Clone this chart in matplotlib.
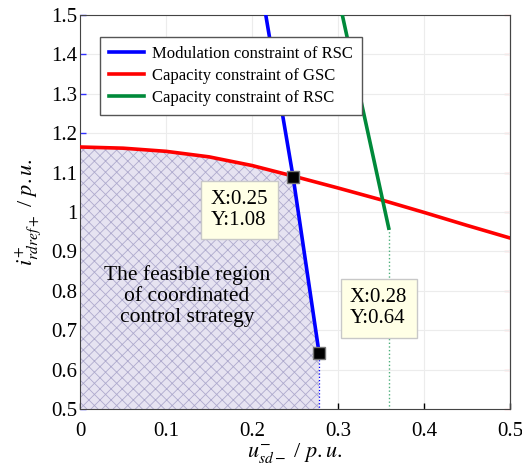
import numpy as np
import matplotlib
matplotlib.use("Agg")
import matplotlib.pyplot as plt

plt.rcParams['font.family'] = ['Liberation Serif', 'DejaVu Serif']
plt.rcParams['mathtext.fontset'] = 'stix'
plt.rcParams['hatch.linewidth'] = 0.6

# Capacity constraint of GSC (red)
gsc_x = [0.0, 0.05, 0.1, 0.15, 0.2, 0.25, 0.3, 0.35, 0.4, 0.45, 0.5]
gsc_y = [1.165, 1.162, 1.154, 1.14, 1.118, 1.09, 1.061, 1.031, 0.999, 0.966, 0.934]

# Modulation constraint of RSC (blue)
mod_x = [0.216, 0.2352, 0.2477, 0.2586, 0.278]
mod_y = [1.5, 1.251, 1.09, 0.929, 0.642]

# Capacity constraint of RSC (green)
rsc_x = [0.305, 0.359]
rsc_y = [1.5, 0.959]

# marked points
pts_x = [0.2477, 0.278]
pts_y = [1.09, 0.642]
pt_labels = ["X:0.25\nY:1.08", "X:0.28\nY:0.64"]

fig = plt.figure(figsize=(5.22, 4.63), dpi=100)
ax = fig.add_axes([0.1533, 0.1166, 0.8237, 0.851])

# feasible region
gx = np.array(gsc_x)
gy = np.array(gsc_y)
keep = gx < pts_x[0]
poly_x = np.concatenate([[0.0], gx[keep], [pts_x[0]], mod_x[3:], [mod_x[-1], 0.0]])
poly_y = np.concatenate([[0.5], gy[keep], [pts_y[0]], mod_y[3:], [0.5, 0.5]])
ax.fill(poly_x, poly_y, facecolor='#e6e3f1', edgecolor='#aeaacd', hatch='xxx', linewidth=0, zorder=1)

ax.plot(mod_x, mod_y, color='#0000ff', lw=2.6, label='Modulation constraint of RSC', zorder=3)
ax.plot(gsc_x, gsc_y, color='#ff0000', lw=2.6, label='Capacity constraint of GSC', zorder=3)
ax.plot(rsc_x, rsc_y, color='#008a3a', lw=2.6, label='Capacity constraint of RSC', zorder=3)

# dotted drop lines
ax.plot([mod_x[-1], mod_x[-1]], [mod_y[-1], 0.5], color='#0000ff', lw=0.9, ls=':', zorder=2)
ax.plot([rsc_x[-1], rsc_x[-1]], [rsc_y[-1], 0.5], color='#4caf7a', lw=1.0, ls=':', zorder=2)

ax.plot(pts_x, pts_y, ls='none', marker='s', ms=9, mfc='black', mec='#777777', mew=1, zorder=5)

box = dict(boxstyle='square,pad=0.45', fc='#ffffe6', ec='#c8c8c8', lw=1)
ax.text(0.152, 1.005, pt_labels[0], fontsize=15, ha='left', va='center', bbox=box, linespacing=1.15, zorder=6)
ax.text(0.314, 0.756, pt_labels[1], fontsize=15, ha='left', va='center', bbox=box, linespacing=1.15, zorder=6)

ax.text(0.1244, 0.787, "The feasible region\nof coordinated\ncontrol strategy", fontsize=15.5,
        ha='center', va='center', linespacing=1.12, zorder=4)

ax.set_xlim(0, 0.5)
ax.set_ylim(0.5, 1.5)
ax.set_xticks(np.arange(0, 0.51, 0.1))
ax.set_xticklabels(['0', '0.1', '0.2', '0.3', '0.4', '0.5'])
ax.set_yticks(np.arange(0.5, 1.51, 0.1))
ax.set_yticklabels(['0.5', '0.6', '0.7', '0.8', '0.9', '1', '1.1', '1.2', '1.3', '1.4', '1.5'])
ax.grid(True, color='#ececec', lw=0.8)
ax.set_axisbelow(True)
ax.tick_params(axis='both', direction='in', labelsize=15, length=4, width=1, pad=2)
ax.tick_params(axis='x', pad=9)
ax.tick_params(axis='y', color='#3030ff')
right = ax.secondary_yaxis('right')
right.set_yticks(np.arange(0.5, 1.51, 0.1))
right.tick_params(direction='in', color='#ff0000', length=4, labelright=False)
for s in ax.spines.values():
    s.set_color('#444444')
right.spines['right'].set_color('#444444')

ax.set_xlabel(r'$u^{-}_{sd-}$ / $\mathit{p.u.}$', fontsize=16, labelpad=0)
ax.set_ylabel(r'$i^{+}_{rdref+}$ / $\mathit{p.u.}$', fontsize=16, labelpad=6)

leg = ax.legend(loc='upper left', bbox_to_anchor=(0.0465, 0.944), borderaxespad=0, fontsize=12,
                frameon=True, framealpha=1, fancybox=False, edgecolor='#555555',
                handlelength=2.1, handletextpad=0.45, borderpad=0.55, labelspacing=0.35)
leg.get_frame().set_linewidth(1)

fig.savefig('out.png', dpi=100)
